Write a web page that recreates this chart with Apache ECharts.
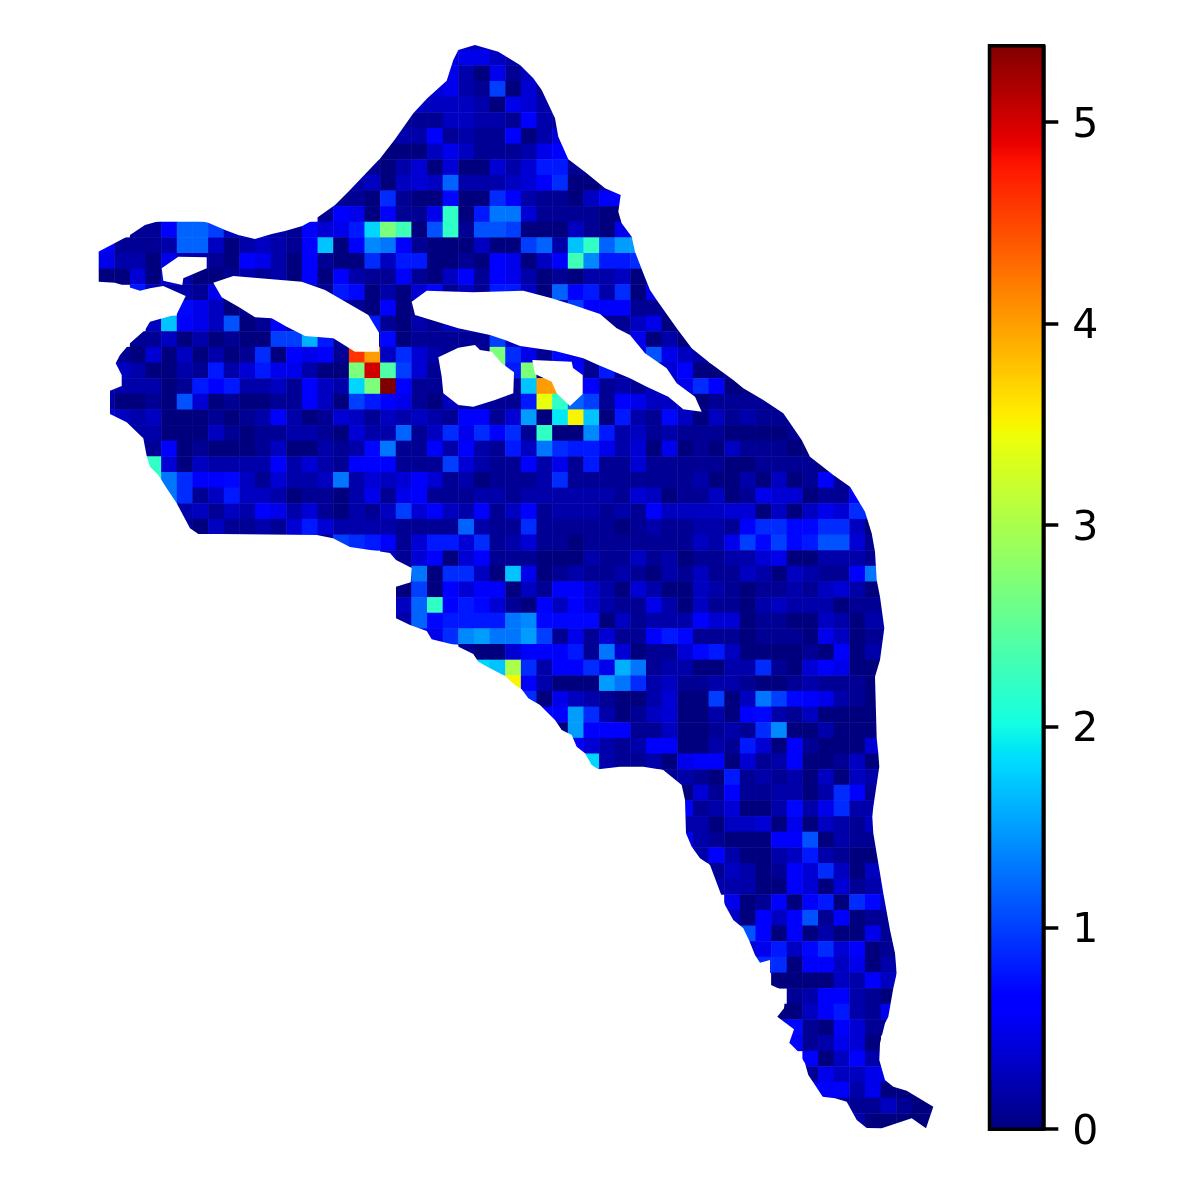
<!DOCTYPE html>
<html><head><meta charset="utf-8">
<script src="https://cdn.jsdelivr.net/npm/echarts@6/dist/echarts.min.js"></script>
<style>html,body{margin:0;padding:0;background:#fff}#c{width:1200px;height:1200px}</style>
</head><body><div id="c"></div>
<script>
// First column of each mesh row
const rowStartCol = [24,23,23,22,21,20,19,19,18,17,16,15,3,1,1,1,3,6,4,3,2,2,1,1,1,2,3,4,4,5,6,6,15,19,20,20,20,20,21,24,25,27,28,29,30,31,32,37,38,38,38,38,39,40,40,41,41,42,42,43,44,45,44,44,45,46,46,46,48,49];
// Cell values per row, in tenths of a colourbar unit
const rowValues = [
[3,3,2],
[4,5,5,3,2],
[5,2,0,5,1,3],
[4,5,2,1,10,0,4,1],
[3,3,3,3,2,0,5,4,2,2],
[1,1,1,3,3,2,2,1,6,2,1],
[1,2,2,6,1,2,1,1,6,0,2,4],
[0,0,0,3,5,3,1,1,1,2,5,6,6],
[1,0,2,4,0,4,0,0,4,2,4,8,8,1,1],
[2,3,0,3,4,3,12,2,2,2,3,4,6,9,0,0,1],
[1,1,0,9,1,0,0,7,0,0,9,6,2,1,1,0,3,6,6],
[1,6,5,0,6,1,1,5,22,0,8,13,13,4,1,1,1,1,0,0],
[1,1,6,12,12,10,3,2,2,2,1,6,4,5,8,18,27,23,0,11,22,1,11,11,10,0,0,0,3,1,0,5,5],
[6,1,1,1,2,12,12,3,0,2,3,2,1,6,17,0,6,14,13,6,1,0,0,0,3,0,0,10,12,2,17,22,12,15,15],
[5,2,2,0,5,2,2,1,0,6,5,2,0,6,1,0,0,9,3,8,8,0,0,1,0,6,5,0,3,6,23,14,8,8,9],
[0,0,4,0,4,2,0,0,1,2,1,2,0,6,0,6,2,1,1,6,1,0,3,6,1,6,5,2,0,1,0,2,2,3,0,1],
[8,3,2,2,1,5,1,1,1,1,1,2,1,8,7,0,2,0,4,7,1,3,1,8,8,3,0,12,6,8,2,9,0,5],
[7,5,3,0,1,1,1,1,1,1,1,1,0,6,0,1,2,1,1,1,1,1,1,1,3,10,6,6,6,1,1,1],
[3,17,6,5,3,11,0,1,6,2,1,1,1,1,8,1,0,2,1,3,2,2,2,2,1,1,1,1,1,1,1,3,5,0,0],
[1,1,3,0,2,0,1,0,0,10,10,16,8,1,1,1,7,0,1,1,1,1,1,10,3,3,3,3,3,3,3,1,5,0,2,0],
[1,0,4,0,3,0,2,0,1,9,0,6,5,6,1,46,40,3,9,4,2,1,1,1,27,9,5,1,7,5,1,1,1,5,11,5,3,2],
[3,2,0,0,2,1,8,2,4,8,5,5,2,0,0,27,50,24,10,4,1,1,1,1,27,8,27,1,1,6,1,8,1,0,0,4,6,0,0,1],
[2,2,2,2,0,1,8,6,8,2,2,3,1,6,3,2,18,27,54,6,1,1,1,1,1,1,1,17,40,40,3,6,1,2,1,3,3,5,9,6,0,0],
[2,0,0,1,0,11,4,0,1,0,0,1,1,6,3,0,10,8,6,5,1,0,3,2,2,1,1,8,34,22,12,10,1,6,5,3,3,3,0,1,1,1,1,1],
[4,3,2,3,0,0,0,1,0,1,2,6,2,0,1,4,3,1,3,2,3,2,1,6,6,1,4,15,0,19,35,17,0,8,2,1,7,3,0,3,1,2,1,1,0],
[1,2,2,0,0,0,3,1,0,1,1,2,2,1,0,4,2,2,12,1,3,9,5,9,6,9,1,22,0,0,14,8,2,3,1,2,1,1,1,0,0,0,0,1],
[2,1,6,0,1,0,0,0,1,3,0,0,2,1,2,7,13,1,1,6,2,6,2,1,8,3,13,9,8,8,5,2,4,0,5,0,1,0,3,1,1,1,0,0],
[22,4,0,3,2,2,2,2,6,2,4,2,1,6,6,6,1,1,1,10,4,2,1,1,6,2,5,1,8,1,1,4,1,1,1,1,1,0,0,1,1,1,1,0],
[22,13,9,6,6,7,3,1,4,2,2,3,13,2,4,3,4,6,4,1,2,0,1,1,1,2,9,1,1,1,1,1,1,1,1,2,0,0,2,0,3,0,1,6,1,1],
[13,9,1,3,8,3,3,2,0,1,1,0,2,5,1,5,6,1,1,1,2,2,1,2,2,2,2,2,2,1,4,3,0,1,1,3,0,1,5,4,4,0,1,1,6],
[2,3,1,3,2,6,5,2,4,1,0,2,1,3,10,4,6,3,2,6,1,3,6,1,2,2,2,1,2,1,6,3,3,3,3,4,4,0,3,0,3,5,4,9,9],
[1,0,3,1,1,2,1,4,8,4,2,2,2,2,1,1,1,1,12,2,1,1,9,1,1,1,1,1,0,1,2,1,1,2,2,1,6,9,9,7,7,9,9,3,0],
[1,10,9,8,6,1,4,8,8,4,9,1,2,4,1,1,0,1,1,1,1,1,1,1,3,2,5,10,7,10,7,8,11,11,4,1],
[3,1,4,6,0,4,6,1,1,1,0,0,0,2,1,1,3,1,2,0,1,1,2,2,4,5,0,0,2,2,2,1],
[1,13,0,9,9,3,0,17,5,0,1,2,1,1,2,1,0,2,1,3,1,1,3,2,0,3,2,1,1,6,13],
[0,10,0,6,4,6,6,0,3,1,6,6,4,2,0,4,2,0,0,3,2,1,0,1,1,2,1,3,4,2,0],
[3,12,22,6,8,7,4,1,0,6,3,6,4,2,1,1,5,2,0,3,1,1,0,2,3,2,2,2,0,1,1,1],
[2,12,7,8,8,8,8,13,14,7,7,7,7,0,3,1,2,2,2,6,4,4,0,1,1,0,0,3,2,0,2,2],
[5,5,9,14,15,13,13,15,10,1,5,1,4,1,1,6,8,7,1,1,1,0,1,1,1,0,5,3,0,1,1],
[1,0,0,4,6,6,6,8,1,13,4,0,1,1,4,7,8,3,0,0,0,0,1,0,6,0,2,1],
[18,17,30,9,2,6,6,9,5,16,13,1,2,2,0,0,2,2,9,1,0,4,6,5,0,0],
[35,6,2,0,0,0,15,13,9,2,3,1,1,2,2,1,0,0,1,2,1,1,1,0],
[9,0,5,3,2,1,0,0,2,4,0,0,10,0,3,13,10,7,6,5,2,1,0],
[6,6,15,9,2,0,1,3,4,0,0,2,0,6,7,2,1,3,0,0,0,0],
[0,15,6,6,6,1,1,3,0,0,1,2,1,9,14,0,0,2,0,0,0],
[6,4,2,1,2,6,6,0,0,2,1,8,4,0,6,1,0,0,0,4],
[18,2,1,1,2,0,5,6,6,0,4,1,2,6,0,0,1,3,0],
[1,2,1,0,8,1,2,1,2,0,3,0,3,2],
[0,4,1,6,1,1,2,2,0,2,9,6,1],
[6,1,2,4,0,0,2,7,2,5,9,2,2],
[2,2,0,3,3,4,0,5,0,3,2,1,3],
[5,2,1,0,0,0,6,6,11,0,2,1,1],
[2,6,2,0,0,2,3,8,2,1,0,0],
[1,3,2,0,1,6,4,9,3,0,3],
[2,2,2,0,0,6,4,0,4,1,2,4],
[5,0,1,6,0,6,8,0,9,7,3],
[3,0,6,3,6,11,1,6,0,1,1],
[11,6,0,6,0,2,0,0,5,1],
[4,5,8,3,7,9,4,6,0,1],
[9,9,0,6,6,3,5,0,2],
[0,0,0,0,3,2,6,3],
[1,2,6,6,2,1,0],
[0,0,3,6,8,2,1,5],
[6,7,1,0,6,4,1,1],
[6,1,2,5,4,0],
[6,0,3,6,2],
[1,5,3,3,5,5],
[6,6,6,2,5,0,0,0],
[1,1,1,3,1,0,0],
[2,0,0,0,0,0]
];
// Domain outline and holes in map units
const boundary = [[98.3,251.7],[115,243],[130,235],[145,225],[160,220.7],[176.7,218.3],[191.7,219],[208.3,222.7],[225,230],[238.3,235],[255,239],[271.7,234],[285,231],[302.3,226],[316.7,218],[335,205],[350,190],[365,174.3],[380.7,157.7],[395,139.3],[413.3,113.3],[427.3,98.3],[446.7,80.7],[453.3,60],[458.3,50],[475,45],[498.3,51.7],[520,65],[533.3,78.3],[541.7,90],[555,118.3],[558.3,136.7],[568.3,159.3],[586.7,173.3],[605,188.3],[620.7,195],[618.3,211.7],[621.7,223.3],[631.7,236.7],[635,251.7],[643.3,273.3],[650,290],[656.7,300],[676.7,328.3],[691.7,348.3],[710,363],[733.3,380],[743.3,388.3],[763.3,400],[783.3,413.3],[801.7,440],[810,456.7],[833.3,475],[850,486.7],[865,511.7],[871.7,533.3],[875,551.7],[876.7,580],[880,596.7],[884.3,628.3],[880,660],[875,676.7],[876.7,738.3],[878.3,753.3],[879.3,766.7],[873.3,806.7],[872.3,816.7],[873.3,833.3],[880,873.3],[883.3,893.3],[890,930],[895,953.3],[896.7,973.3],[893.3,988.3],[888.3,1016.7],[885,1023.3],[880,1043.3],[879.3,1060],[885,1080],[893.3,1086.7],[906.7,1090.7],[933.3,1106.7],[926,1128.3],[911.7,1118.3],[896.7,1123.3],[881.7,1128.3],[866.7,1128],[856.7,1120],[846.7,1101.7],[835,1098.3],[822.7,1096.7],[815,1085],[808.3,1075],[805,1063.3],[797.3,1050.7],[789.3,1042.7],[794,1029.3],[777.3,1016.7],[784,1008.3],[785.7,991.7],[767.3,983.3],[770,973.3],[770,960],[760,962.7],[755,955],[749.3,940.7],[743.3,928.3],[733.3,920],[725,905],[710,865],[700,858.3],[691.7,846.7],[686,833.3],[685,800],[681.7,785],[663.3,770],[643.3,766.7],[620,766.7],[598.3,769.3],[591.7,765],[585,753.3],[576.7,746.7],[571.7,735],[561.7,730],[555,720],[540,705],[528.3,698.3],[521.7,689.3],[515,685],[505,676],[490,668.3],[478.3,661.7],[473.3,654],[455,645],[431.7,639.3],[426.7,631],[410,625],[396,618.3],[396,586.7],[410.7,582.3],[411.7,568],[396,560],[390,553],[350,547],[333,538.3],[316.7,535],[221.7,534],[198.3,534],[190,528.3],[176.7,503.3],[166.7,488.3],[158.3,475],[150,466.7],[146.7,456],[143.3,438.3],[126.7,422.3],[110,414],[110,390.7],[121.7,386],[121.7,375],[115.7,363.3],[120,355],[130,343.3],[145,330],[150,321.7],[176.7,314.3],[185.7,296],[163.3,286],[150,288.3],[140,290.7],[115,282.7],[98.3,281.7]];
const holes = [
[[161.7,268.3],[178.3,256.7],[206.7,257.3],[206.7,268.3],[183.3,278.3],[182.3,285],[163.3,280.7]],
[[213.3,282.7],[233.3,276],[301.7,281.7],[325,290],[368.3,315],[379,332.7],[379,351.7],[355,351.7],[333.3,338.3],[305,336],[286.7,326.7],[271.7,318.3],[255,317.3],[240,307.7],[221.7,297.3]],
[[411.7,301.7],[426.7,290.7],[473.3,292.3],[523.3,290.7],[551.7,298.3],[573.3,305],[600,314],[616.7,328.3],[630,335],[645,353.3],[666.7,368.3],[676.7,383.3],[695,396.7],[701.7,411.7],[683.3,409.3],[668.3,396.7],[646.7,386.7],[630,378.3],[598.3,365],[583.3,358.3],[555,351],[520,346],[505,340],[490,335],[458.3,328.3],[415,315]],
[[438.3,357.3],[458.3,347.7],[475,345],[480,350],[491.7,351.7],[501.7,363.3],[514,372.3],[513.3,393.3],[495,400],[473.3,406.7],[458.3,405],[443.3,393.3],[441.7,376.7]],
[[532.3,360],[571.7,361.7],[573,368],[582.7,375],[582.7,394],[570,406],[556.7,393.3],[551.7,381.7],[535,374]]
];
const colorbarTicks = [0,1,2,3,4,5];
const colorbarMax = 5.38;
// matplotlib jet stops: position, r, g, b
const jetStops = [[0,0,0,127],[0.11,0,0,255],[0.125,0,0,255],[0.34,0,219,255],[0.35,0,229,247],[0.375,20,255,226],[0.64,238,255,8],[0.65,247,245,0],[0.66,255,236,0],[0.89,255,19,0],[0.91,232,0,0],[1,127,0,0]];

const rgb = s => `rgb(${s[1]},${s[2]},${s[3]})`;
function jetAt(t){
  for(let i=1;i<jetStops.length;i++){
    const a=jetStops[i-1],b=jetStops[i];
    if(t<=b[0]){const f=(t-a[0])/(b[0]-a[0]);
      return `rgb(${Math.round(a[1]+(b[1]-a[1])*f)},${Math.round(a[2]+(b[2]-a[2])*f)},${Math.round(a[3]+(b[3]-a[3])*f)})`;}
  }
  return rgb(jetStops[jetStops.length-1]);
}
const jetPalette = Array.from({length:257},(_,i)=>jetAt(i/256));

const COLS=55, ROWS=rowValues.length;
const cells=[];
rowValues.forEach((vals,r)=>vals.forEach((v,i)=>cells.push([rowStartCol[r]+i,r,v/10])));

const gridL=83.2,gridT=34.3,cell=15.64;
const mapX=[gridL,gridL+cell*COLS], mapY=[gridT,gridT+cell*ROWS];

function ringPath(api,ring){
  return ring.map((p,i)=>{const c=api.coord(p);return (i?'L':'M')+c[0].toFixed(2)+' '+c[1].toFixed(2);}).join(' ')+' Z';
}
function renderMask(params,api){
  const pad=3;
  const rect=[[mapX[0]-pad,mapY[0]-pad],[mapX[1]+pad,mapY[0]-pad],[mapX[1]+pad,mapY[1]+pad],[mapX[0]-pad,mapY[1]+pad]];
  const d=[ringPath(api,rect),ringPath(api,boundary.slice().reverse())].concat(holes.map(h=>ringPath(api,h))).join(' ');
  return {type:'path',shape:{pathData:d},style:{fill:'#fff',stroke:null},silent:true};
}
function renderBar(params,api){
  const a=api.coord([0,colorbarMax]),b=api.coord([1,0]);
  return {type:'rect',shape:{x:a[0],y:a[1],width:b[0]-a[0],height:b[1]-a[1]},
    style:{fill:{type:'linear',x:0,y:1,x2:0,y2:0,colorStops:jetStops.map(s=>({offset:s[0],color:rgb(s)}))},stroke:'#000',lineWidth:3.5},silent:true};
}
const chart=echarts.init(document.getElementById('c'),null,{renderer:'canvas'});
chart.setOption({
  animation:false,backgroundColor:'#fff',
  textStyle:{fontFamily:'DejaVu Sans'},
  grid:[
    {left:gridL,top:gridT,width:cell*COLS,height:cell*ROWS},
    {left:989.5,top:45.7,width:53.8,height:1083.5}
  ],
  xAxis:[
    {type:'category',gridIndex:0,show:false,data:Array.from({length:COLS},(_,i)=>i)},
    {type:'value',gridIndex:0,show:false,min:mapX[0],max:mapX[1]},
    {type:'value',gridIndex:1,show:false,min:0,max:1}
  ],
  yAxis:[
    {type:'category',gridIndex:0,show:false,inverse:true,data:Array.from({length:ROWS},(_,i)=>i)},
    {type:'value',gridIndex:0,show:false,inverse:true,min:mapY[0],max:mapY[1]},
    {type:'value',gridIndex:1,position:'right',min:0,max:colorbarMax,
      axisLine:{show:true,onZero:false,lineStyle:{color:'#000',width:3.5}},splitLine:{show:false},
      axisTick:{show:true,inside:false,length:15,customValues:colorbarTicks,lineStyle:{color:'#000',width:3.5}},
      axisLabel:{show:true,margin:29,fontSize:41,color:'#000',fontFamily:'DejaVu Sans',verticalAlign:'top',lineHeight:8,customValues:colorbarTicks,formatter:v=>String(v)}}
  ],
  visualMap:{show:false,type:'continuous',seriesIndex:0,dimension:2,min:0,max:colorbarMax,inRange:{color:jetPalette}},
  series:[
    {type:'heatmap',xAxisIndex:0,yAxisIndex:0,data:cells,progressive:0,emphasis:{disabled:true},itemStyle:{borderWidth:0}},
    {type:'custom',xAxisIndex:1,yAxisIndex:1,data:[[0,0]],renderItem:renderMask,silent:true,z:5},
    {type:'custom',xAxisIndex:2,yAxisIndex:2,data:[[0,0]],renderItem:renderBar,silent:true,z:5}
  ]
});
</script></body></html>
